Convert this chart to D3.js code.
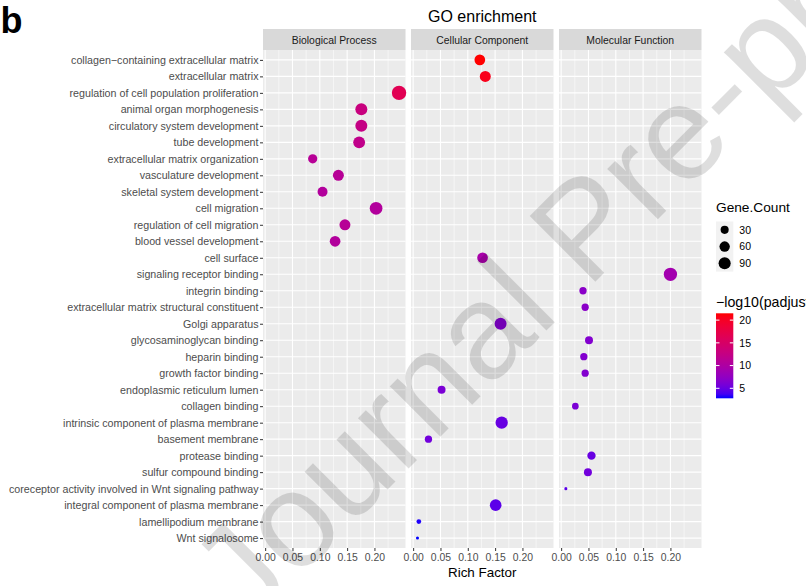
<!DOCTYPE html>
<html>
<head>
<meta charset="utf-8">
<script src="https://cdn.jsdelivr.net/npm/d3@7"></script>
<style>
  body { margin: 0; background: #fff; }
  text { font-family: "Liberation Sans", Arial, Helvetica, sans-serif; }
</style>
</head>
<body>
<script>
// GO terms, top to bottom
const terms = [
    "collagen−containing extracellular matrix",
    "extracellular matrix",
    "regulation of cell population proliferation",
    "animal organ morphogenesis",
    "circulatory system development",
    "tube development",
    "extracellular matrix organization",
    "vasculature development",
    "skeletal system development",
    "cell migration",
    "regulation of cell migration",
    "blood vessel development",
    "cell surface",
    "signaling receptor binding",
    "integrin binding",
    "extracellular matrix structural constituent",
    "Golgi apparatus",
    "glycosaminoglycan binding",
    "heparin binding",
    "growth factor binding",
    "endoplasmic reticulum lumen",
    "collagen binding",
    "intrinsic component of plasma membrane",
    "basement membrane",
    "protease binding",
    "sulfur compound binding",
    "coreceptor activity involved in Wnt signaling pathway",
    "integral component of plasma membrane",
    "lamellipodium membrane",
    "Wnt signalosome"
];
const ontology = ["CC", "CC", "BP", "BP", "BP", "BP", "BP", "BP", "BP", "BP",
                  "BP", "BP", "CC", "MF", "MF", "MF", "CC", "MF", "MF", "MF",
                  "CC", "MF", "CC", "CC", "MF", "MF", "MF", "CC", "CC", "CC"];
const richFactor = [0.122, 0.132, 0.245, 0.176, 0.176, 0.172, 0.087, 0.134, 0.105, 0.203,
                    0.146, 0.128, 0.127, 0.200, 0.040, 0.044, 0.160, 0.051, 0.0415, 0.044,
                    0.052, 0.026, 0.162, 0.028, 0.0555, 0.049, 0.0086, 0.151, 0.0104, 0.0079];
const geneCount = [65, 70, 140, 88, 88, 85, 44, 70, 54, 102,
                   70, 65, 65, 114, 22, 22, 88, 29, 22, 22,
                   29, 17, 94, 22, 33, 29, 3, 82, 6, 3];
const negLogPadj = [21.5, 20.5, 16.5, 13, 12.5, 12, 11, 11, 10.5, 10.5,
                    11, 10.5, 9.5, 9, 7, 7, 6.5, 6.5, 6.5, 6.5,
                    6, 6, 5, 5.5, 5, 5.5, 4.5, 4.5, 3, 2.8];

const facetCodes = ["BP", "CC", "MF"];
const facetNames = ["Biological Process", "Cellular Component", "Molecular Function"];
const xTicks = [0, 0.05, 0.10, 0.15, 0.20];
const xMinor = [0.025, 0.075, 0.125, 0.175, 0.225];
const sizeBreaks = [30, 60, 90];
const colorBreaks = [5, 10, 15, 20];

let data = terms.map((t, i) => ({term: t, ont: ontology[i], rf: richFactor[i], count: geneCount[i], p: negLogPadj[i]}));

let width = 806, height = 586;
let plot = {left: 263, right: 701.5, top: 50, bottom: 548};

let svg = d3.select("body").append("svg")
    .attr("width", width)
    .attr("height", height);
svg.append("rect").attr("width", width).attr("height", height).attr("fill", "#fff");

// facet columns
let fx = d3.scaleBand().domain(facetCodes).range([plot.left, plot.right]).paddingInner(0.037);

// x scale shared by the panels, 5% expansion like ggplot
let ext = d3.extent(richFactor), pad = (ext[1] - ext[0]) * 0.05;
let x = d3.scaleLinear().domain([ext[0] - pad, ext[1] + pad]).range([0, fx.bandwidth()]);

let y = d3.scalePoint().domain(terms).range([plot.top, plot.bottom]).padding(0.6);

let color = d3.scaleLinear()
    .domain(d3.extent(negLogPadj))
    .range(["blue", "red"])
    .interpolate(d3.interpolateLab);

// ggplot scale_size: area palette 1..6
let tCount = d3.scaleLinear().domain(d3.extent(geneCount)).range([0, 1]);
let sizeScale = d3.scaleLinear().domain([0, 1]).range([1, 6]);
let radius = v => 0.4 * (2.845 * sizeScale(Math.sqrt(Math.max(0, tCount(v)))) + 0.945);

// panels
facetCodes.forEach((code, k) => {
    let g = svg.append("g").attr("transform", "translate(" + fx(code) + ",0)");
    let w = fx.bandwidth();

    g.append("rect")
        .attr("x", 0).attr("y", plot.top)
        .attr("width", w).attr("height", plot.bottom - plot.top)
        .attr("fill", "#EBEBEB");

    g.selectAll(".minor").data(xMinor).join("line")
        .attr("x1", d => x(d)).attr("x2", d => x(d))
        .attr("y1", plot.top).attr("y2", plot.bottom)
        .attr("stroke", "#fff").attr("stroke-width", 0.55);

    g.selectAll(".hgrid").data(terms).join("line")
        .attr("x1", 0).attr("x2", w)
        .attr("y1", d => y(d)).attr("y2", d => y(d))
        .attr("stroke", "#fff").attr("stroke-width", 1.1);

    g.selectAll(".vgrid").data(xTicks).join("line")
        .attr("x1", d => x(d)).attr("x2", d => x(d))
        .attr("y1", plot.top).attr("y2", plot.bottom)
        .attr("stroke", "#fff").attr("stroke-width", 1.1);

    g.selectAll("circle")
        .data(data.filter(d => d.ont === code))
        .join("circle")
        .attr("cx", d => x(d.rf))
        .attr("cy", d => y(d.term))
        .attr("r", d => radius(d.count))
        .attr("fill", d => color(d.p));

    // strip
    g.append("rect")
        .attr("x", 0).attr("y", 29)
        .attr("width", w).attr("height", plot.top - 29)
        .attr("fill", "#D9D9D9");
    g.append("text")
        .attr("x", w / 2).attr("y", 43.5)
        .attr("text-anchor", "middle")
        .attr("font-size", 10.4)
        .attr("fill", "#1A1A1A")
        .text(facetNames[k]);

    // bottom axis
    let ax = g.append("g")
        .attr("transform", "translate(0," + plot.bottom + ")")
        .call(d3.axisBottom(x).tickValues(xTicks).tickFormat(d3.format(".2f")).tickSize(3).tickPadding(2.5));
    ax.select(".domain").remove();
    ax.selectAll("line").attr("stroke", "#333");
    ax.selectAll("text").attr("fill", "#4D4D4D").attr("font-size", 10.4)
        .attr("font-family", "Liberation Sans, Arial, sans-serif");
});

// left axis
let ay = svg.append("g")
    .attr("transform", "translate(" + plot.left + ",0)")
    .call(d3.axisLeft(y).tickSize(3).tickPadding(1.5));
ay.select(".domain").remove();
ay.selectAll("line").attr("stroke", "#333");
ay.selectAll("text").attr("fill", "#4D4D4D").attr("font-size", 10.7)
    .attr("font-family", "Liberation Sans, Arial, sans-serif");

// titles
let midX = (plot.left + plot.right) / 2;
svg.append("text")
    .attr("x", midX).attr("y", 22)
    .attr("text-anchor", "middle")
    .attr("font-size", 16)
    .text("GO enrichment");
svg.append("text")
    .attr("x", midX).attr("y", 577)
    .attr("text-anchor", "middle")
    .attr("font-size", 13.4)
    .text("Rich Factor");
svg.append("text")
    .attr("x", 0.5).attr("y", 33)
    .attr("font-size", 36)
    .attr("font-weight", "bold")
    .text("b");

// size legend
let lx = 716, keyW = 17.3, keyH = 16.7, sizeTop = 221.5;
svg.append("text")
    .attr("x", lx).attr("y", 212)
    .attr("font-size", 13.7)
    .text("Gene.Count");
svg.append("rect")
    .attr("x", lx).attr("y", sizeTop)
    .attr("width", keyW).attr("height", keyH * sizeBreaks.length)
    .attr("fill", "#F2F2F2");
let sk = svg.append("g").selectAll("g").data(sizeBreaks).join("g")
    .attr("transform", (d, i) => "translate(" + (lx + keyW / 2) + "," + (sizeTop + keyH * (i + 0.5)) + ")");
sk.append("circle").attr("r", d => radius(d)).attr("fill", "#000");
sk.append("text")
    .attr("x", keyW / 2 + 6).attr("dy", "0.35em")
    .attr("font-size", 10.5)
    .attr("fill", "#000")
    .text(d => d);

// colour bar
let barTop = 313.3, barBottom = 398.3;
svg.append("text")
    .attr("x", lx).attr("y", 306.5)
    .attr("font-size", 14.2)
    .text("−log10(padjust)");
let grad = svg.append("defs").append("linearGradient")
    .attr("id", "cbar").attr("x1", 0).attr("x2", 0).attr("y1", 1).attr("y2", 0);
grad.selectAll("stop").data(d3.range(0, 1.0001, 0.05)).join("stop")
    .attr("offset", d => d)
    .attr("stop-color", d => color(color.domain()[0] + d * (color.domain()[1] - color.domain()[0])));
svg.append("rect")
    .attr("x", lx).attr("y", barTop)
    .attr("width", keyW).attr("height", barBottom - barTop)
    .attr("fill", "url(#cbar)");
let cy = d3.scaleLinear().domain(color.domain()).range([barBottom, barTop]);
let ct = svg.append("g").selectAll("g").data(colorBreaks).join("g")
    .attr("transform", d => "translate(" + lx + "," + cy(d) + ")");
ct.append("line").attr("x1", 0).attr("x2", keyW * 0.2).attr("stroke", "#fff").attr("stroke-width", 1);
ct.append("line").attr("x1", keyW * 0.8).attr("x2", keyW).attr("stroke", "#fff").attr("stroke-width", 1);
ct.append("text")
    .attr("x", keyW + 6).attr("dy", "0.35em")
    .attr("font-size", 10.5)
    .text(d => d);

// watermark
svg.append("text")
    .attr("transform", "translate(248,629) rotate(-45)")
    .attr("font-size", 135)
    .attr("fill", "#000")
    .attr("fill-opacity", 0.13)
    .text("Journal Pre-proof");
</script>
</body>
</html>
